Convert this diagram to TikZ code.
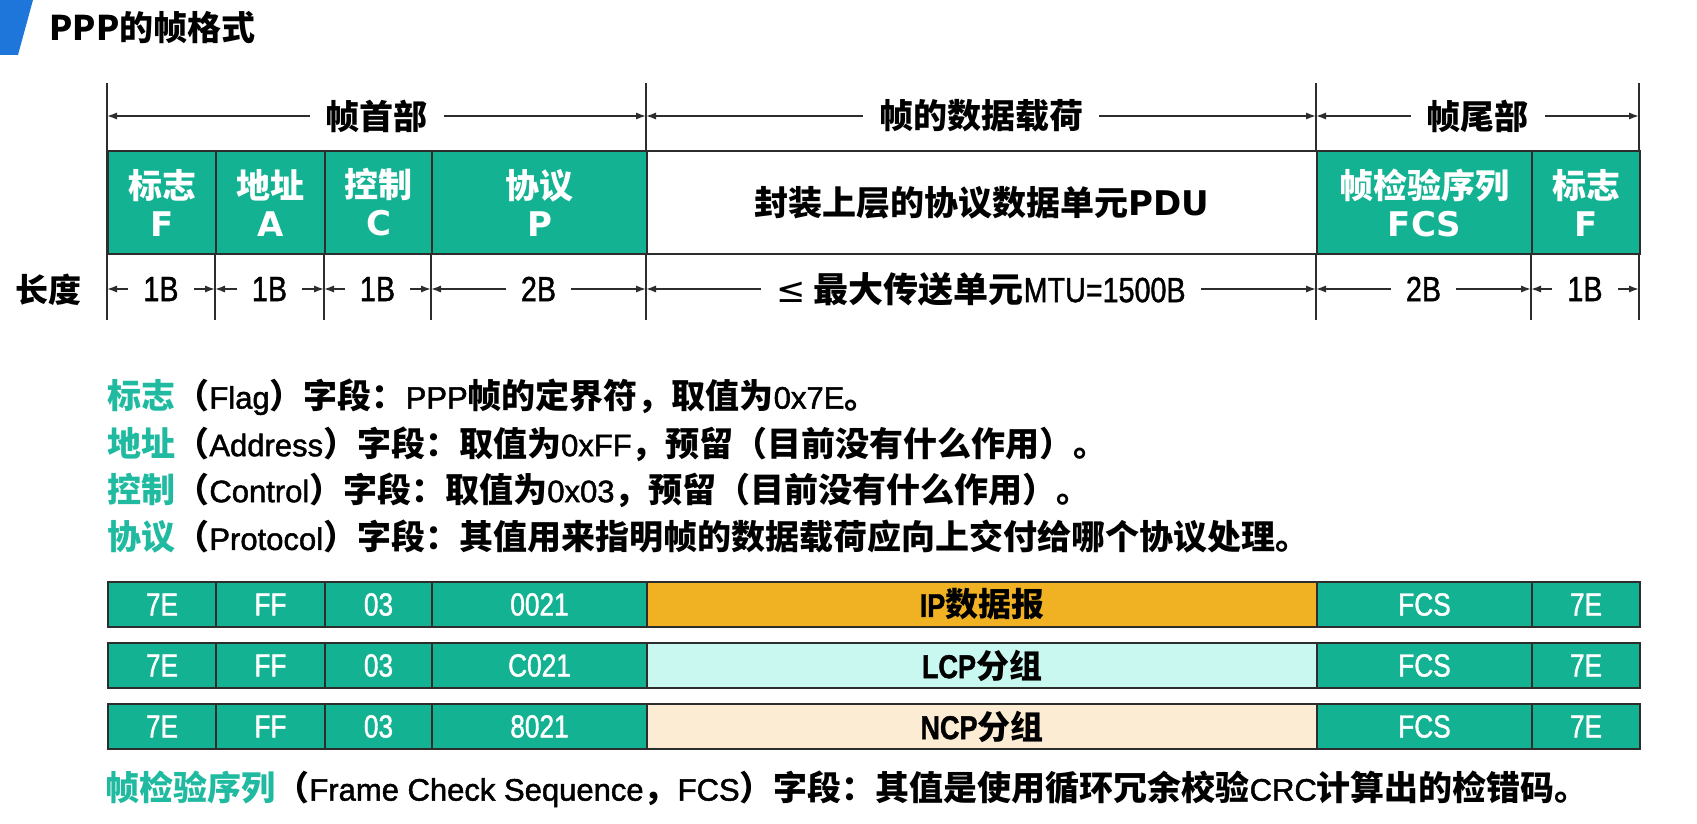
\documentclass[tikz,border=0pt]{standalone}
\usepackage{fontspec}
\setmainfont{Liberation Sans}
\newfontfamily\cjk{Noto Sans CJK SC}
\newfontfamily\latfont[FakeBold=1.6]{Liberation Sans}
\newfontfamily\narrowfont[FakeStretch=0.82,FakeBold=1.2]{Liberation Sans}
\newfontfamily\widefont{DejaVu Sans}
\usetikzlibrary{arrows.meta}
\definecolor{pppgreen}{RGB}{18,178,146}
\definecolor{descgreen}{RGB}{32,186,160}
\definecolor{ipfill}{RGB}{240,178,35}
\definecolor{lcpfill}{RGB}{200,248,240}
\definecolor{ncpfill}{RGB}{253,236,212}
\definecolor{titleblue}{RGB}{30,118,218}
\definecolor{rulegray}{RGB}{45,45,45}
\newcommand\lat[1]{{\latfont\mdseries\fontsize{15.5}{18}\selectfont #1}}
\newcommand\fld[2]{{\cjk\bfseries #1}\\{\widefont\bfseries #2}}
\tikzset{
  >={Latex[length=5pt,width=3.6pt]},
  bound/.style={draw=rulegray,line width=0.8pt},
  dimline/.style={<->,draw=rulegray,line width=0.8pt},
  dimlbl/.style={midway,fill=white,inner xsep=7.5pt,inner ysep=1pt,
    font=\narrowfont\fontsize{17.5}{20}\selectfont},
  hdrlbl/.style={midway,fill=white,inner xsep=8pt,inner ysep=1pt,
    font=\cjk\bfseries\fontsize{17}{20}\selectfont},
  fieldcell/.style={draw=rulegray,line width=1pt,fill=pppgreen,inner sep=0pt,
    anchor=north west,minimum height=51.5pt,minimum width=#1,
    text=white,align=center,font=\fontsize{17}{19}\selectfont},
  paycell/.style={fieldcell=#1,fill=white,text=black},
  rowcell/.style={draw=rulegray,line width=1pt,fill=pppgreen,inner sep=0pt,
    anchor=north west,minimum height=22.5pt,minimum width=#1,
    text=white,font=\narrowfont\fontsize{16}{18}\selectfont},
  rowpay/.style={rowcell=#1,text=black,font=\cjk\bfseries\fontsize{16.5}{20}\selectfont},
  desc/.style={anchor=west,inner sep=0pt,font=\cjk\bfseries\fontsize{17}{20}\selectfont},
  sidelbl/.style={inner sep=0pt,font=\cjk\bfseries\fontsize{16.5}{20}\selectfont},
  titlelbl/.style={anchor=west,inner sep=0pt,font=\cjk\bfseries\fontsize{17}{20}\selectfont},
}
\begin{document}
\begin{tikzpicture}[x=0.5pt,y=-0.5pt]
  \useasboundingbox (0,0) rectangle (1697,824);
  % title
  \fill[titleblue] (0,0) -- (33,0) -- (18,55) -- (0,55) -- cycle;
  \node[titlelbl] (title) at (49,28) {PPP的帧格式};

  % field boundaries
  \foreach \n/\x in {0/107,1/215,2/324,3/431,4/646,5/1316,6/1531,7/1639} {
    \coordinate (t\n) at (\x,83);
    \coordinate (h\n) at (\x,116);
    \coordinate (u\n) at (\x,150);
    \coordinate (l\n) at (\x,289);
    \coordinate (b\n) at (\x,320);
  }
  \foreach \n in {0,4,5,7} \draw[bound] (t\n) -- (b\n);
  \foreach \n in {1,2,3,6} \draw[bound] (u\n) -- (b\n);

  % header
  \draw[dimline] (h0) -- (h4) node[hdrlbl] {帧首部};
  \draw[dimline] (h4) -- (h5) node[hdrlbl] {帧的数据载荷};
  \draw[dimline] (h5) -- (h7) node[hdrlbl] {帧尾部};

  % frame fields
  \node[fieldcell=54pt] (fflag) at (u0) {\fld{标志}{F}};
  \node[fieldcell=54.5pt] (faddr) at (u1) {\fld{地址}{A}};
  \node[fieldcell=53.5pt] (fctrl) at (u2) {\fld{控制}{C}};
  \node[fieldcell=107.5pt] (fproto) at (u3) {\fld{协议}{P}};
  \node[paycell=335pt] (fpdu) at (u4) {\cjk\bfseries 封装上层的协议数据单元{\widefont\bfseries PDU}};
  \node[fieldcell=107.5pt] (ffcs) at (u5) {\fld{帧检验序列}{FCS}};
  \node[fieldcell=54pt] (fflagb) at (u6) {\fld{标志}{F}};

  % lengths
  \node[sidelbl] (len) at (49,290) {长度};
  \draw[dimline] (l0) -- (l1) node[dimlbl] {1B};
  \draw[dimline] (l1) -- (l2) node[dimlbl] {1B};
  \draw[dimline] (l2) -- (l3) node[dimlbl] {1B};
  \draw[dimline] (l3) -- (l4) node[dimlbl] {2B};
  \draw[dimline] (l4) -- (l5) node[dimlbl] {{\widefont ≤} {\cjk\bfseries 最大传送单元}MTU=1500B};
  \draw[dimline] (l5) -- (l6) node[dimlbl] {2B};
  \draw[dimline] (l6) -- (l7) node[dimlbl] {1B};

  % field notes
  \node[desc] (dflag) at (107,397) {\textcolor{descgreen}{标志}（\lat{Flag}）字段：\lat{PPP}帧的定界符，取值为\lat{0x7E}。};
  \node[desc] (daddr) at (107,444) {\textcolor{descgreen}{地址}（\lat{Address}）字段：取值为\lat{0xFF}，预留（目前没有什么作用）。};
  \node[desc] (dctrl) at (107,490) {\textcolor{descgreen}{控制}（\lat{Control}）字段：取值为\lat{0x03}，预留（目前没有什么作用）。};
  \node[desc] (dproto) at (107,537) {\textcolor{descgreen}{协议}（\lat{Protocol}）字段：其值用来指明帧的数据载荷应向上交付给哪个协议处理。};

  % example frames
  \foreach \r/\yt/\code/\pay/\pfill in {
      1/581/0021/{{\narrowfont IP}数据报}/ipfill,
      2/642/C021/{{\narrowfont LCP}分组}/lcpfill,
      3/703/8021/{{\narrowfont NCP}分组}/ncpfill} {
    \foreach \n/\x in {0/107,1/215,2/324,3/431,4/646,5/1316,6/1531}
      \coordinate (p\r\n) at (\x,\yt);
    \node[rowcell=54pt] (rflag\r) at (p\r0) {7E};
    \node[rowcell=54.5pt] (raddr\r) at (p\r1) {FF};
    \node[rowcell=53.5pt] (rctrl\r) at (p\r2) {03};
    \node[rowcell=107.5pt] (rproto\r) at (p\r3) {\code};
    \node[rowpay=335pt,fill=\pfill] (rpay\r) at (p\r4) {\pay};
    \node[rowcell=107.5pt] (rfcs\r) at (p\r5) {FCS};
    \node[rowcell=54pt] (rflagb\r) at (p\r6) {7E};
  }

  \node[desc] (dfcs) at (105,789) {\textcolor{descgreen}{帧检验序列}（\lat{Frame Check Sequence}，\lat{FCS}）字段：其值是使用循环冗余校验\lat{CRC}计算出的检错码。};
\end{tikzpicture}
\end{document}
